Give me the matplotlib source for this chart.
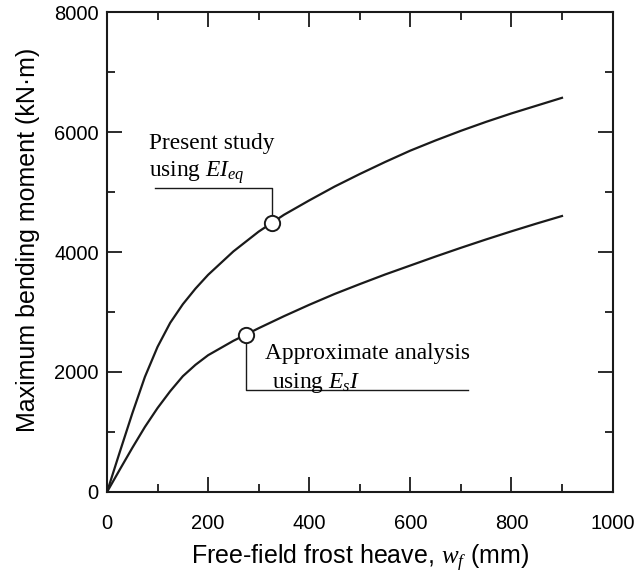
import matplotlib
matplotlib.use('Agg')
import matplotlib.pyplot as plt
from matplotlib.ticker import MultipleLocator

plt.rcParams['font.family'] = ['Liberation Sans', 'DejaVu Sans']
plt.rcParams['mathtext.fontset'] = 'custom'
plt.rcParams['mathtext.rm'] = 'Liberation Serif'
plt.rcParams['mathtext.it'] = 'Liberation Serif:italic'

# frost heave (mm)
heave = [0, 25, 50, 75, 100, 125, 150, 175, 200, 250, 300, 350, 400, 450,
         500, 550, 600, 650, 700, 750, 800, 850, 900]
# max bending moment (kN·m), equivalent stiffness EI_eq
moment_eq = [0, 660, 1310, 1920, 2420, 2820, 3130, 3390, 3620, 4010, 4340,
             4620, 4860, 5090, 5300, 5500, 5690, 5860, 6020, 6170, 6310,
             6440, 6570]
# approximate analysis with E_s I
moment_approx = [0, 370, 735, 1085, 1400, 1680, 1930, 2120, 2280, 2520, 2730,
                 2930, 3120, 3300, 3465, 3625, 3775, 3925, 4070, 4210, 4345,
                 4475, 4600]

# points picked out by the callouts
mark_eq = (326, 4490)
mark_approx = (275, 2625)

ink = '#1a1a1a'
serif = 'Liberation Serif'

fig = plt.figure(figsize=(6.42, 5.81), dpi=100)
ax = fig.add_axes([0.1667, 0.1532, 0.7874, 0.8261])

ax.plot(heave, moment_eq, color=ink, lw=1.6)
ax.plot(heave, moment_approx, color=ink, lw=1.6)

# callout for the present study
ax.plot([95, mark_eq[0], mark_eq[0]], [5067, 5067, mark_eq[1]],
        color=ink, lw=1.0)
ax.plot(*mark_eq, 'o', ms=11, mfc='white', mec=ink, mew=1.4)
ax.text(83, 5717, 'Present study', fontsize=16.8, family=serif,
        va='baseline', ha='left')
ax.text(83, 5250, 'using $EI_{eq}$', fontsize=16.8, family=serif,
        va='baseline', ha='left')

# callout for the approximate analysis
ax.plot([mark_approx[0], mark_approx[0], 714], [mark_approx[1], 1700, 1700],
        color=ink, lw=1.0)
ax.plot(*mark_approx, 'o', ms=11, mfc='white', mec=ink, mew=1.4)
ax.text(313, 2210, 'Approximate analysis', fontsize=16.8, family=serif,
        va='baseline', ha='left')
ax.text(326, 1730, 'using $E_sI$', fontsize=16.8, family=serif,
        va='baseline', ha='left')

ax.set_xlim(0, 1000)
ax.set_ylim(0, 8000)
ax.xaxis.set_major_locator(MultipleLocator(200))
ax.xaxis.set_minor_locator(MultipleLocator(100))
ax.yaxis.set_major_locator(MultipleLocator(2000))
ax.yaxis.set_minor_locator(MultipleLocator(1000))
ax.tick_params(which='both', direction='in', top=True, right=True, color=ink)
ax.tick_params(which='major', length=10.5, width=1.3)
ax.tick_params(which='minor', length=5.5, width=1.3)
ax.tick_params(axis='x', which='major', pad=16, labelsize=14.5)
ax.tick_params(axis='y', which='major', pad=6, labelsize=14.5)
for s in ax.spines.values():
    s.set_linewidth(1.5)
    s.set_color(ink)

ax.set_xlabel('Free-field frost heave, $w_f$ (mm)', fontsize=18, labelpad=7)
ax.set_ylabel('Maximum bending moment (kN·m)', fontsize=18)
ax.yaxis.set_label_coords(-0.1325, 0.525)

fig.savefig('out.png', dpi=100)
